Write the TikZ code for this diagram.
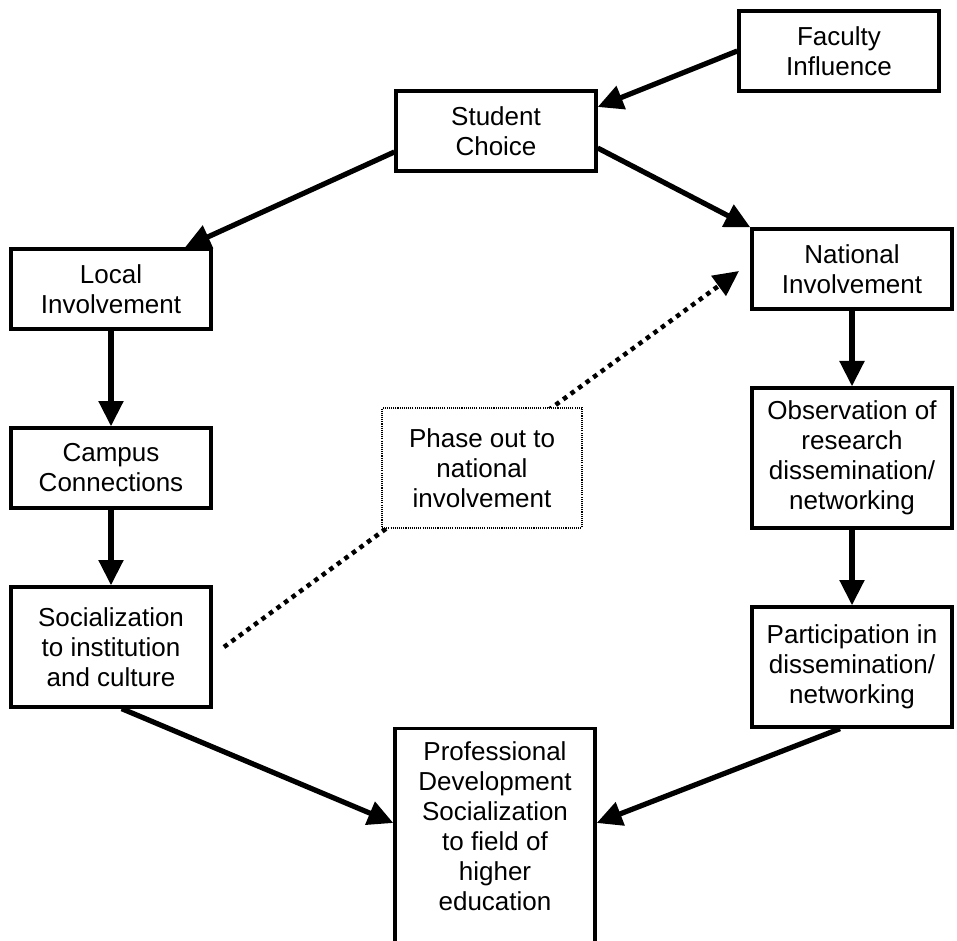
\documentclass[tikz,border=0pt]{standalone}
\usepackage{fontspec}
\setmainfont{Liberation Sans}
\usetikzlibrary{arrows.meta}
\begin{document}
\begin{tikzpicture}[x=0.75pt,y=-0.75pt,
  every node/.style={font=\fontsize{19.5}{22.5}\selectfont},
  box/.style={draw, line width=2.5pt, fill=white, align=center, inner sep=0pt,
    minimum width=150pt, minimum height=60pt},
  phasebox/.style={draw, line width=0.8pt, dash pattern=on 0.8pt off 0.8pt, fill=white,
    align=center, inner sep=0pt, minimum width=150pt, minimum height=90pt},
  conn/.style={line width=3.9pt, -{Triangle[length=19pt,width=18pt]}},
  dotconn/.style={line width=3.4pt, dash pattern=on 3.4pt off 3.6pt,
    -{Triangle[length=19pt,width=18pt]}}]
\useasboundingbox (0,0) rectangle (957,941);
\clip (0,0) rectangle (957,941);

\node[box] (fac) at (839,51) {Faculty\\Influence};
\node[box] (stu) at (496,131) {Student\\Choice};
\node[box] (loc) at (111,289) {Local\\Involvement};
\node[box] (nat) at (852,269) {National\\Involvement};
\node[box] (cam) at (111,468) {Campus\\Connections};
\node[box, minimum height=105pt] (obs) at (852,458) {Observation of\\research\\dissemination/\\networking};
\node[box, minimum height=90pt] (soc) at (111,647) {Socialization\\to institution\\and culture};
\node[box, minimum height=90pt] (par) at (852,667) {Participation in\\dissemination/\\networking};
\node[box, anchor=north, inner ysep=10pt] (prof) at (495,727)
  {\parbox[t][160pt][t]{148pt}{\centering Professional\\Development\\Socialization\\to field of\\higher\\education}};

\coordinate (d1) at (224,647);
\coordinate (d2) at (739,271);
\draw[dotconn] (d1) -- (d2);
\node[phasebox] (pha) at (482,468) {Phase out to\\national\\involvement};

\draw[conn] (fac.west) -- ([yshift=18pt]stu.east);
\draw[conn] ([yshift=-15.75pt]stu.west) -- ([xshift=55.5pt]loc.north);
\draw[conn] ([yshift=-12.75pt]stu.east) -- (nat.north west);
\draw[conn] (loc.south) -- (cam.north);
\draw[conn] (cam.south) -- (soc.north);
\draw[conn] (nat.south) -- (obs.north);
\draw[conn] (obs.south) -- (par.north);
\draw[conn] ([xshift=8pt]soc.south) -- ([yshift=-72pt]prof.north west);
\draw[conn] ([xshift=-9pt]par.south) -- ([yshift=-72pt]prof.north east);
\end{tikzpicture}
\end{document}
